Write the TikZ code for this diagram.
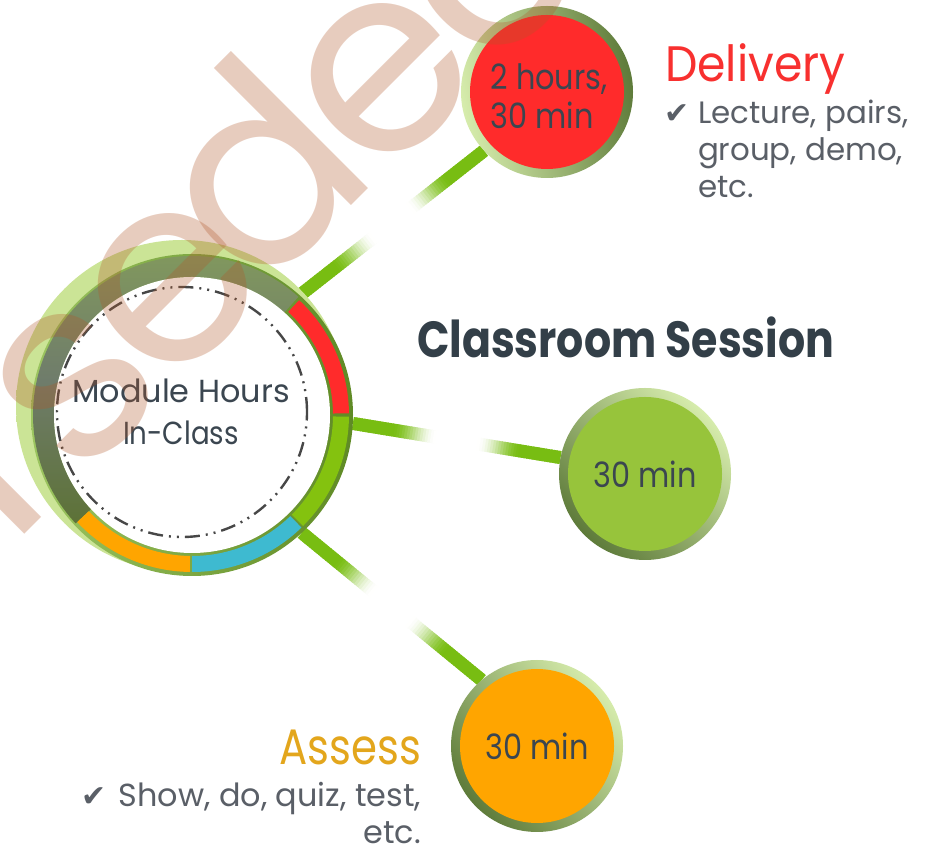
\documentclass[tikz,border=0pt]{standalone}
\usepackage{fontspec}
\setmainfont{Poppins}
\newfontfamily\chkfont{DejaVu Sans}
\newfontfamily\nA{Poppins}[FakeStretch=0.84]
\newfontfamily\nB{Poppins}[FakeStretch=0.92]
\newfontfamily\nC{Poppins}[FakeStretch=0.87]
\usetikzlibrary{calc}
\definecolor{redc}{HTML}{FF2B2B}
\definecolor{grnc}{HTML}{97C43B}
\definecolor{orgc}{HTML}{FFA500}
\definecolor{bluc}{HTML}{3EBAD0}
\definecolor{seggrn}{HTML}{84C20F}
\definecolor{spokec}{HTML}{78BD12}
\definecolor{rimL}{HTML}{9CC560}
\definecolor{rimR}{HTML}{5F8A25}
\definecolor{bandtop}{HTML}{839B5C}
\definecolor{bandmid}{HTML}{6F7C6B}
\definecolor{bandbot}{HTML}{5D7237}
\definecolor{glowc}{HTML}{CBE496}
\definecolor{ringL}{HTML}{D6ECAC}
\definecolor{ringD}{HTML}{5E7B3A}
\definecolor{txtdark}{HTML}{3B4650}
\definecolor{txtgrey}{HTML}{5A5F67}
\definecolor{titlec}{HTML}{333F48}
\definecolor{delc}{HTML}{F8302F}
\definecolor{assc}{HTML}{E3A61C}
\definecolor{wmcol}{HTML}{B2582A}
\definecolor{dashc}{HTML}{474747}
\pgfdeclarelayer{back}
\pgfdeclarelayer{bg}
\pgfsetlayers{back,bg,main}
\pgfdeclareradialshading{ringglow}{\pgfpoint{0bp}{0bp}}{color(0bp)=(glowc); color(45bp)=(glowc); color(50bp)=(white)}
\newcommand\chk{{\chkfont\fontsize{30}{30}\selectfont\char"2714}}
\newcommand\annseg[4]{(#1:#4) arc[start angle=#1,end angle=#2,radius=#4] -- (#2:#3) arc[start angle=#2,end angle=#1,radius=#3] -- cycle}
\newcommand\spokeline[2]{%
  \foreach \i in {0,...,79}{%
    \pgfmathsetmacro\ta{\i/80}%
    \pgfmathsetmacro\tb{min(1,(\i+1.6)/80)}%
    \pgfmathsetmacro\pp{min(1,max(0,(abs(2*(\i+0.5)/80-1)-0.2)/0.42))}%
    \pgfmathsetmacro\pc{100*\pp*\pp*(3-2*\pp)}%
    \draw[line width=13bp, spokec!\pc!white] ($(#1)!\ta!(#2)$) -- ($(#1)!\tb!(#2)$);
  }}
\begin{document}
\begin{tikzpicture}[x=1bp,y=1bp,
  txt/.style={inner sep=0pt, outer sep=0pt},
  geo/.style={circle, inner sep=0pt, outer sep=0pt},
  dashdot/.style={draw=dashc, line width=2.4bp, dash pattern=on 15bp off 6bp on 2bp off 6bp on 2bp off 6bp},
  cfont/.style={font=\nC\fontsize{35}{39}\selectfont, text=txtdark},
  wm/.style={txt, rotate=45, font=\fontsize{263}{263}\selectfont, text=wmcol, opacity=0.3}]
\begin{pgfonlayer}{back}
\fill[white] (0,0) rectangle (927,848);
\end{pgfonlayer}
\useasboundingbox (0,0) rectangle (927,848);

% geometry nodes
\node[geo, minimum size=322bp] (ring) at (192,433) {};

% small circles with shaded rims
\node[geo, minimum size=172bp, top color=ringL, bottom color=ringD, shading angle=100] (red) at (547,756) {};
\node[geo, minimum size=154bp, fill=redc] (redin) at (red) {};
\node[txt, cfont, align=left, anchor=center] (redtxt) at ($(red)+(2,-4)$) {2 hours,\\30 min};
\node[geo, minimum size=172bp, top color=ringL, bottom color=ringD, shading angle=-45] (grn) at (645,374) {};
\node[geo, minimum size=154bp, fill=grnc, cfont] (grnin) at (grn) {30 min};
\node[geo, minimum size=172bp, top color=ringL, bottom color=ringD, shading angle=-50] (org) at (537,102) {};
\node[geo, minimum size=154bp, fill=orgc, cfont] (orgin) at (org) {30 min};

% spokes
\begin{pgfonlayer}{bg}
\spokeline{ring.48}{red.223}
\spokeline{ring.-3}{grn.169}
\spokeline{ring.-47}{org.130}
\end{pgfonlayer}

% main ring
\begin{scope}[shift={(ring.center)}]
  \shade[shading=ringglow] (-10,9) circle (166);
  \shade[left color=rimL, right color=rimR] (0,0) circle (161);
  \shade[top color=bandtop, bottom color=bandbot, middle color=bandmid] \annseg{48}{223}{138}{159};
  \fill[redc] \annseg{0.6}{47}{141}{157};
  \fill[seggrn] \annseg{-45}{-0.6}{141}{157};
  \fill[bluc] \annseg{-90}{-45.8}{141}{157};
  \fill[orgc] \annseg{-137}{-90.8}{141}{157};
  \fill[white] (0,0) circle (138);
  \draw[dashdot] (-10,3) circle (125);
\end{scope}

\node[txt, anchor=north, align=center, font=\fontsize{32}{42}\selectfont, text=txtdark] (mod) at (181,469) {Module Hours\\{\nC In-Class}};

% texts
\node[txt, anchor=base west, font=\nB\fontsize{50}{50}\selectfont, text=delc] (deltitle) at (665,766) {Delivery};
\node[txt, anchor=north west, align=left, font=\fontsize{31}{37}\selectfont, text=txtgrey] (dellist) at (664,748)
  {\makebox[34bp][l]{\chk}Lecture, pairs,\\\hspace*{34bp}group, demo,\\\hspace*{34bp}etc.};
\node[txt, anchor=base west, font=\nA\bfseries\fontsize{51}{51}\selectfont, text=titlec] (title) at (417,490) {Classroom Session};
\node[txt, anchor=base east, font=\nA\fontsize{50}{50}\selectfont, text=assc] (asstitle) at (421,83) {Assess};
\node[txt, anchor=north east, align=right, font=\fontsize{32}{37}\selectfont, text=txtgrey] (asslist) at (421,66)
  {\chk\hspace{12bp}Show, do, quiz, test,\\etc.};

% watermark
\node[wm, anchor=base] (wml) at (33,322) {l};
\node[wm, anchor=center] (wms) at (75,463) {s};
\node[wm, anchor=center] (wme) at (172,560) {e};
\node[wm, anchor=base] (wmd) at (320,611) {d};
\node[wm, anchor=center] (wmee) at (385,770) {e};
\node[wm, anchor=center] (wmcc) at (492,875) {c};
\end{tikzpicture}
\end{document}
